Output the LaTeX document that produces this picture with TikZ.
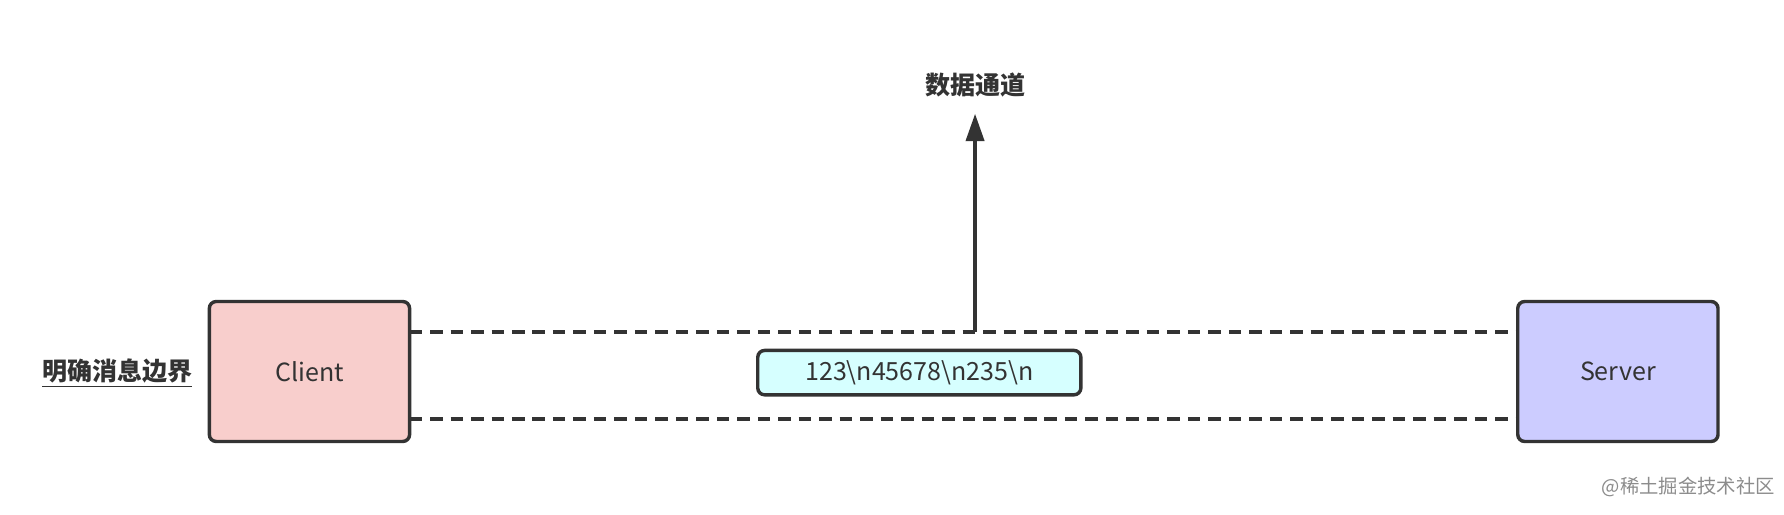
\documentclass[tikz,border=0pt]{standalone}
\usepackage{fontspec}
\setmainfont{Noto Sans CJK SC}
\usetikzlibrary{arrows.meta}
\begin{document}
\begin{tikzpicture}[x=0.5pt,y=-0.5pt,
  box/.style={draw=black!80,line width=1.5pt,rounded corners=3pt,inner sep=0pt},
  dline/.style={draw=black!80,line width=1.6pt,dash pattern=on 5.5pt off 3.5pt},
  lbl/.style={font=\fontsize{11}{13}\selectfont,text=black!80}]
\useasboundingbox (0,0) rectangle (1568,452);
\node[box,fill={rgb,255:red,248;green,206;blue,204},minimum width=88pt,minimum height=61.5pt,lbl] (client) at (272,326.5) {Client};
\node[box,fill={rgb,255:red,204;green,204;blue,255},minimum width=88pt,minimum height=61.5pt,lbl] (server) at (1422,326.5) {Server};
\node[box,fill={rgb,255:red,214;green,255;blue,255},minimum width=142pt,minimum height=19.5pt,lbl] (msg) at (808,327.5) {123\textbackslash n45678\textbackslash n235\textbackslash n};
\coordinate (c1) at (360,292); \coordinate (s1) at (1334,292);
\coordinate (c2) at (360,368); \coordinate (s2) at (1334,368);
\draw[dline] (c1) -- (s1);
\draw[dline] (c2) -- (s2);
\coordinate (a0) at (857,292);
\node[lbl,font=\fontsize{11}{13}\selectfont\bfseries] (top) at (857,75) {数据通道};
\coordinate (a1) at (857,100);
\draw[black!80,line width=1.5pt,-{Triangle[length=12pt,width=8pt]}] (a0) -- (a1);
\node[lbl,font=\fontsize{11}{13}\selectfont\bfseries] (left) at (103,328) {\underline{明确消息边界}};
\node[font=\fontsize{8.5}{10}\selectfont,text=black!45] (wm) at (1484,428) {@稀土掘金技术社区};
\end{tikzpicture}
\end{document}
